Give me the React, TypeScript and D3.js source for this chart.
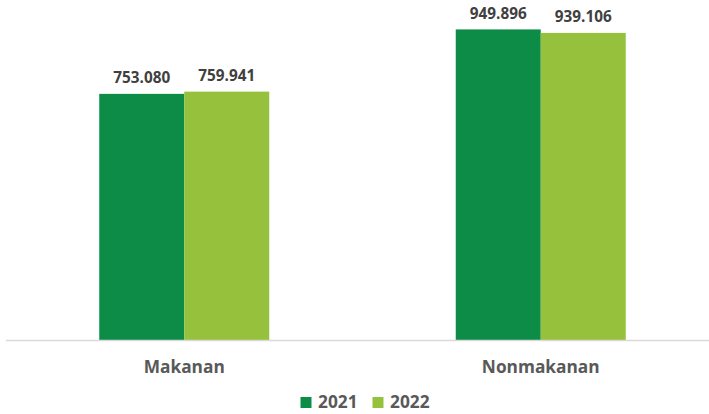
import React from "react";
import * as d3 from "d3";

const categories = ["Makanan", "Nonmakanan"];
const seriesNames = ["2021", "2022"];
const values2021 = [753.08, 949.896];
const values2022 = [759.941, 939.106];
const valueLabels2021 = ["753.080", "949.896"];
const valueLabels2022 = ["759.941", "939.106"];

const colors = ["#0C8C47", "#95C13D"];
const W = 709;
const H = 414;
const FONT = "'Open Sans', sans-serif";

export default function App() {
  const x0 = d3.scaleBand<string>().domain(categories).range([6, 719]).padding(0);
  const groupW = 170;
  const x1 = d3.scaleBand<string>().domain(seriesNames).range([0, groupW]).padding(0);
  const y = d3.scaleLinear().domain([0, 1000]).range([340.5, 13]);
  const series = [
    { name: "2021", vals: values2021, labels: valueLabels2021 },
    { name: "2022", vals: values2022, labels: valueLabels2022 },
  ];

  return (
    <svg width={W} height={H} style={{ position: "absolute", left: 0, top: 0, background: "#fff" }}>
      {categories.map((c, ci) => {
        const gx = x0(c)! + (x0.bandwidth() - groupW) / 2;
        return (
          <g key={c}>
            {series.map((s, si) => {
              const bx = gx + x1(s.name)!;
              const by = y(s.vals[ci]);
              return (
                <g key={s.name}>
                  <rect x={bx} y={by} width={x1.bandwidth()} height={y(0) - by} fill={colors[si]} />
                  <text
                    x={bx + x1.bandwidth() / 2}
                    y={by - 10.5}
                    textAnchor="middle"
                    fontFamily={FONT}
                    fontWeight="bold"
                    fontSize={15.3}
                    fill="#404040"
                  >
                    {s.labels[ci]}
                  </text>
                </g>
              );
            })}
            <text
              x={x0(c)! + x0.bandwidth() / 2}
              y={372.5}
              textAnchor="middle"
              fontFamily={FONT}
              fontWeight="bold"
              fontSize={17.3}
              fill="#595959"
            >
              {c}
            </text>
          </g>
        );
      })}
      <line x1={6} x2={709} y1={340.5} y2={340.5} stroke="#D9D9D9" strokeWidth={1.5} />
      {seriesNames.map((s, i) => {
        const lx = 300.5 + i * 72;
        return (
          <g key={s}>
            <rect x={lx} y={397} width={11} height={11} fill={colors[i]} />
            <text x={lx + 17.5} y={407.5} fontFamily={FONT} fontWeight="bold" fontSize={17.3} fill="#595959">
              {s}
            </text>
          </g>
        );
      })}
    </svg>
  );
}
